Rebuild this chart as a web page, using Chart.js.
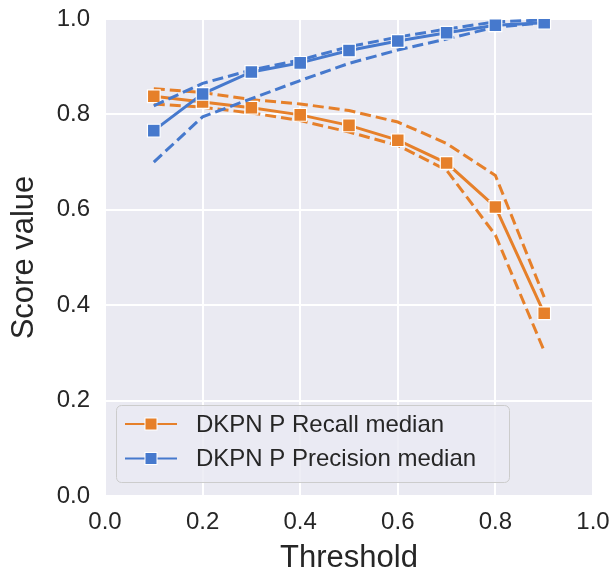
<!DOCTYPE html>
<html>
<head>
<meta charset="utf-8">
<script src="https://cdn.jsdelivr.net/npm/chart.js@4"></script>
<style>
  html, body { margin: 0; padding: 0; background: #ffffff; }
  #wrap { width: 613px; height: 581px; }
</style>
</head>
<body>
<div id="wrap"><canvas id="scoreChart" width="613" height="581"></canvas></div>
<script>
// Thresholds on the x axis
const thresholds = [0.1, 0.2, 0.3, 0.4, 0.5, 0.6, 0.7, 0.8, 0.9];

// Recall: median and the dashed band around it
const recallMedian = [0.838, 0.826, 0.814, 0.799, 0.777, 0.746, 0.698, 0.606, 0.383];
const recallUpper  = [0.854, 0.846, 0.831, 0.822, 0.808, 0.784, 0.739, 0.672, 0.417];
const recallLower  = [0.822, 0.815, 0.803, 0.787, 0.763, 0.735, 0.683, 0.547, 0.304];

// Precision: median and the dashed band around it
const precisionMedian = [0.766, 0.843, 0.889, 0.908, 0.934, 0.954, 0.971, 0.987, 0.992];
const precisionUpper  = [0.818, 0.865, 0.893, 0.914, 0.942, 0.962, 0.979, 0.994, 0.998];
const precisionLower  = [0.700, 0.795, 0.833, 0.871, 0.907, 0.935, 0.958, 0.983, 0.992];

// Axis ticks
const xTicks = [0.0, 0.2, 0.4, 0.6, 0.8, 1.0];
const yTicks = [0.0, 0.2, 0.4, 0.6, 0.8, 1.0];

const legendLabels = ['DKPN P Recall median', 'DKPN P Precision median'];

const ORANGE = '#e6802a';
const BLUE = '#4679cd';
const FONT = '"Liberation Sans", Arial, Helvetica, sans-serif';
const TEXT = '#262626';

function toPoints(values) {
    return thresholds.map((t, i) => ({ x: t, y: values[i] }));
}

function medianSet(label, values, color, order) {
    return {
        label: label,
        data: toPoints(values),
        borderColor: color,
        backgroundColor: color,
        borderWidth: 3,
        pointStyle: 'rect',
        pointRadius: 9,
        pointHoverRadius: 9,
        pointBorderColor: '#ffffff',
        pointBorderWidth: 1.2,
        pointBackgroundColor: color,
        tension: 0,
        order: order
    };
}

function bandSet(label, values, color, order) {
    return {
        label: label,
        data: toPoints(values),
        borderColor: color,
        borderWidth: 3,
        borderDash: [11, 5],
        pointRadius: 0,
        pointHoverRadius: 0,
        tension: 0,
        order: order
    };
}

// Plot background like seaborn darkgrid
const plotBackground = {
    id: 'plotBackground',
    beforeDraw(chart) {
        const { ctx, chartArea: a } = chart;
        ctx.save();
        ctx.fillStyle = '#eaeaf2';
        ctx.fillRect(a.left, a.top, a.right - a.left, a.bottom - a.top);
        ctx.restore();
    }
};

// Legend box with line + square marker samples
const markerLegend = {
    id: 'markerLegend',
    afterDraw(chart) {
        const ctx = chart.ctx;
        const colors = [ORANGE, BLUE];
        ctx.save();
        ctx.beginPath();
        ctx.roundRect(116.5, 405.5, 393, 77, 5);
        ctx.fillStyle = 'rgba(234,234,242,0.8)';
        ctx.fill();
        ctx.strokeStyle = '#cccccc';
        ctx.lineWidth = 1;
        ctx.stroke();

        legendLabels.forEach((label, i) => {
            const y = 424 + i * 34.5;
            ctx.beginPath();
            ctx.moveTo(125, y);
            ctx.lineTo(177, y);
            ctx.strokeStyle = colors[i];
            ctx.lineWidth = 2.2;
            ctx.stroke();
            ctx.fillStyle = '#ffffff';
            ctx.fillRect(144.5, y - 6.5, 13, 13);
            ctx.fillStyle = colors[i];
            ctx.fillRect(145.5, y - 5.5, 11, 11);
            ctx.fillStyle = TEXT;
            ctx.font = '24px ' + FONT;
            ctx.textBaseline = 'middle';
            ctx.textAlign = 'left';
            ctx.fillText(label, 196, y + 1);
        });
        ctx.restore();
    }
};

const ctx = document.getElementById('scoreChart').getContext('2d');
const scoreChart = new Chart(ctx, {
    type: 'line',
    data: {
        datasets: [
            bandSet('Recall upper', recallUpper, ORANGE, 6),
            bandSet('Recall lower', recallLower, ORANGE, 5),
            medianSet(legendLabels[0], recallMedian, ORANGE, 4),
            bandSet('Precision upper', precisionUpper, BLUE, 3),
            bandSet('Precision lower', precisionLower, BLUE, 2),
            medianSet(legendLabels[1], precisionMedian, BLUE, 1)
        ]
    },
    options: {
        responsive: false,
        animation: false,
        devicePixelRatio: 1,
        layout: {
            padding: { top: 19, right: 20, bottom: 0, left: 0 }
        },
        plugins: {
            legend: { display: false },
            tooltip: { enabled: false }
        },
        scales: {
            x: {
                type: 'linear',
                min: 0,
                max: 1,
                afterBuildTicks(scale) {
                    scale.ticks = xTicks.map(v => ({ value: v }));
                },
                afterFit(scale) {
                    scale.height = 85;
                    scale.paddingLeft = 0;
                    scale.paddingRight = 0;
                },
                ticks: {
                    callback: v => v.toFixed(1),
                    font: { family: FONT, size: 24 },
                    color: TEXT,
                    padding: 12,
                    maxRotation: 0
                },
                grid: { color: '#ffffff', lineWidth: 2, drawTicks: false },
                border: { display: false },
                title: {
                    display: true,
                    text: 'Threshold',
                    font: { family: FONT, size: 31 },
                    color: TEXT,
                    padding: { top: 0, bottom: 4 }
                }
            },
            y: {
                type: 'linear',
                min: 0,
                max: 1,
                afterBuildTicks(scale) {
                    scale.ticks = yTicks.map(v => ({ value: v }));
                },
                afterFit(scale) {
                    scale.width = 105;
                    scale.paddingTop = 0;
                    scale.paddingBottom = 0;
                },
                ticks: {
                    callback: v => v.toFixed(1),
                    font: { family: FONT, size: 24 },
                    color: TEXT,
                    padding: 15
                },
                grid: { color: '#ffffff', lineWidth: 2, drawTicks: false },
                border: { display: false },
                title: {
                    display: true,
                    text: 'Score value',
                    font: { family: FONT, size: 31 },
                    color: TEXT,
                    padding: { top: 6, bottom: 0 }
                }
            }
        }
    },
    plugins: [plotBackground, markerLegend]
});
</script>
</body>
</html>
